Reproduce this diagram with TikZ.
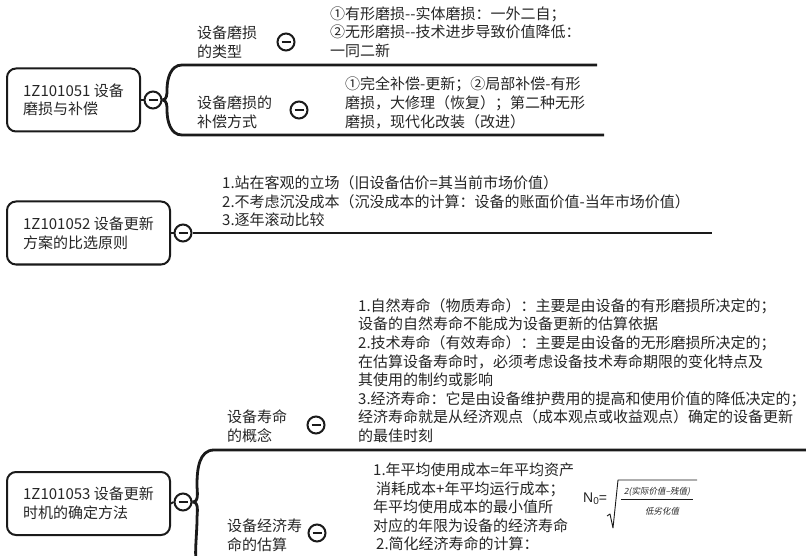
\documentclass[tikz,border=0pt]{standalone}
\usepackage{fontspec}
\setmainfont{Noto Sans CJK SC}
\newfontfamily\slantfont[FakeSlant=0.2]{Noto Sans CJK SC}
\newfontfamily\arialfont{Liberation Sans}
\usetikzlibrary{calc, positioning}
\definecolor{inkc}{HTML}{1A1A1A}
\definecolor{textc}{HTML}{262626}
\tikzset{
    topicB/.style={draw=inkc, line width=2pt, rounded corners=9pt, minimum width=#1, minimum height=63pt, align=left},
    topicB/.default={163pt},
    minusC/.style={draw=inkc, circle, line width=2pt, minimum size=17pt, fill=white,
        path picture={\draw[line width=2.8pt, inkc] ([xshift=-4.5pt]path picture bounding box.center) -- ([xshift=4.5pt]path picture bounding box.center);}},
    branchL/.style={draw=inkc, line width=2.8pt},
    stubL/.style={draw=inkc, line width=1.8pt},
    leafT/.style={anchor=west, align=left},
    fracT/.style={font=\slantfont\fontsize{8.5pt}{9pt}\selectfont}
}

\begin{document}
\begin{tikzpicture}[x=1pt, y=-1pt]
    \def \W {806}
    \def \H {556}
    \tikzstyle{every node}=[inner sep=0pt, text=textc, font=\fontsize{15pt}{18.6pt}\selectfont];
    \fill[white, use as bounding box] (0,0) rectangle (\W,\H);
    \clip (0,0) rectangle (\W,\H);
    \node[topicB=133pt] (k1) at (73.5,100) {1Z101051 设备\\磨损与补偿};
    \node[topicB] (k2) at (88.5,233) {1Z101052 设备更新\\方案的比选原则};
    \node[topicB] (k3) at (88.5,503.5) {1Z101053 设备更新\\时机的确定方法};
    \node[minusC] (m1) at (153,100) {};
    \node[minusC] (m2) at (183,233) {};
    \node[minusC] (m3) at (183,502) {};
    \draw[stubL] (k1.east) -- (m1.west);
    \draw[stubL] (k2.east) -- (m2.west);
    \draw[stubL] (k3.east) -- (m3.west);
    \coordinate (t1) at (597,65);
    \coordinate (b1) at (604,135);
    \coordinate (e2) at (712,233);
    \coordinate (t3) at (\W,450);
    \coordinate (b3) at (\W,585);
    \draw[branchL] (m1.east) to[out=0,in=270] (167,90) to[out=90,in=180] (182,65) -- (t1);
    \draw[branchL] (m1.east) to[out=0,in=90] (167,110) to[out=270,in=180] (182,135) -- (b1);
    \draw[branchL] (m2.east) -- (e2);
    \draw[branchL] (m3.east) to[out=0,in=270] (197,485) to[out=90,in=180] (214,450) -- (t3);
    \draw[branchL] (m3.east) to[out=0,in=90] (197,519) to[out=270,in=180] (215,585) -- (b3);
    \node[leafT] (s11) at (197,42) {设备磨损\\的类型};
    \node[minusC] (c11) at (286,42) {};
    \node[leafT] (d11) at (330,32) {①有形磨损-{}-实体磨损：一外二自；\\②无形磨损-{}-技术进步导致价值降低：\\一同二新};
    \node[leafT] (s12) at (197,112) {设备磨损的\\补偿方式};
    \node[minusC] (c12) at (299,110) {};
    \node[leafT] (d12) at (345,103) {①完全补偿-更新；②局部补偿-有形\\磨损，大修理（恢复）；第二种无形\\磨损，现代化改装（改进）};
    \node[leafT] (d2) at (222,201.5) {1.站在客观的立场（旧设备估价=其当前市场价值）\\2.不考虑沉没成本（沉没成本的计算：设备的账面价值-当年市场价值）\\3.逐年滚动比较};
    \node[leafT] (s31) at (227,426) {设备寿命\\的概念};
    \node[minusC] (c31) at (316,425) {};
    \node[leafT] (d31) at (358,370.5) {1.自然寿命（物质寿命）：主要是由设备的有形磨损所决定的；\\设备的自然寿命不能成为设备更新的估算依据\\2.技术寿命（有效寿命）：主要是由设备的无形磨损所决定的；\\在估算设备寿命时，必须考虑设备技术寿命期限的变化特点及\\其使用的制约或影响\\3.经济寿命：它是由设备维护费用的提高和使用价值的降低决定的；\\经济寿命就是从经济观点（成本观点或收益观点）确定的设备更新\\的最佳时刻};
    \node[leafT] (s32) at (227,535) {设备经济寿\\命的估算};
    \node[minusC] (c32) at (317,533) {};
    \node[leafT] (d32) at (373,507) {1.年平均使用成本=年平均资产\\\hspace*{3pt}消耗成本+年平均运行成本；\\年平均使用成本的最小值所\\对应的年限为设备的经济寿命\\\hspace*{3pt}2.简化经济寿命的计算：};
    \node[anchor=west, font=\arialfont\fontsize{14pt}{14pt}\selectfont] (n0) at (583,499) {N\raisebox{-2pt}{\fontsize{10pt}{10pt}\selectfont 0}=};
    \node[fracT] (nu) at (657,492) {2(实际价值–残值)};
    \node[fracT] (de) at (662,511) {低劣化值};
    \draw[inkc, line width=0.7pt] ($(nu.south west)+(-3,2.5)$) -- ($(nu.south east)+(3,2.5)$);
    \draw[inkc, line width=0.9pt, line join=round] (607,516) -- (610,514) -- (613,528) -- (618,480) -- (697,480);
\end{tikzpicture}
\end{document}
